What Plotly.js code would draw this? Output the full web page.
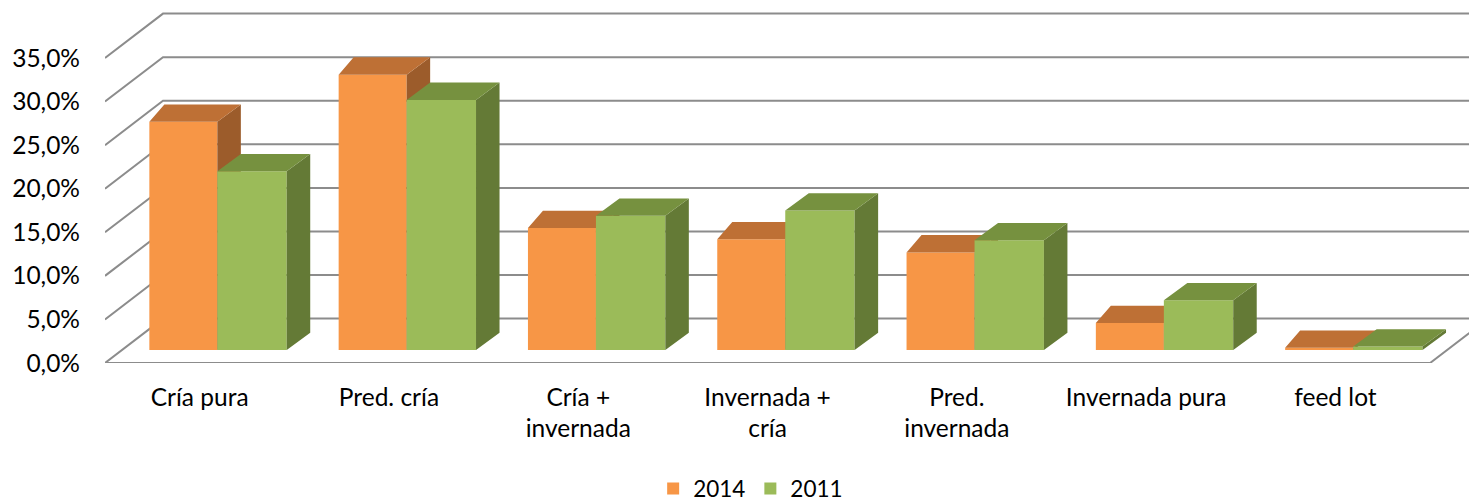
<!DOCTYPE html>
<html>
<head>
<meta charset="utf-8">
<script src="https://cdn.plot.ly/plotly-3.0.1.min.js"></script>
<style>html,body{margin:0;padding:0;background:#fff;}#chart{width:1469px;height:504px;}</style>
</head>
<body>
<div id="chart"></div>
<script>
// ---- data ----
const categories = ['Cría pura', 'Pred. cría', 'Cría +<br>invernada', 'Invernada +<br>cría', 'Pred.<br>invernada', 'Invernada pura', 'feed lot'];
const series2014 = [26.2, 31.6, 14.0, 12.7, 11.2, 3.1, 0.25];
const series2011 = [20.5, 28.7, 15.4, 16.0, 12.6, 5.7, 0.4];
const tickValues = [0, 5, 10, 15, 20, 25, 30, 35];
const tickLabels = ['0,0%', '5,0%', '10,0%', '15,0%', '20,0%', '25,0%', '30,0%', '35,0%'];

// ---- geometry (pixel scale of the front plane) ----
const W = 1469, H = 504;
const M = {l: 105, r: 0, t: 0, b: 141};
const PX_CAT = 189.3, PX_PCT = 8.714;
const plotW = W - M.l - M.r, plotH = H - M.t - M.b;
const xRange = [-0.5, -0.5 + plotW / PX_CAT];
const yRange = [0, plotH / PX_PCT];
const wallDx = 58 / PX_CAT, wallDy = 44.4 / PX_PCT;     // full depth of the floor/walls
const baseY = 13 / PX_PCT;                                // bar front face sits a bit behind the front edge
const topDy = 17.3 / PX_PCT;                              // bar depth (vertical)
const topDxR = 23.5 / PX_CAT;                             // bar depth (horizontal, right edge)

const styles = {
  '2014': {offset: -0.2657, width: 0.3592, dL: 15 / PX_CAT, front: '#F79646', top: '#BE7035', side: '#9C5C2B'},
  '2011': {offset: 0.0935, width: 0.3665, dL: 23.5 / PX_CAT, front: '#9BBB59', top: '#76913F', side: '#647A36'}
};

function seriesTraces(name, values, xa, ya) {
  const s = styles[name];
  const xs = values.map((v, i) => i);
  const topX = [], topY = [], sideX = [], sideY = [];
  values.forEach((v, i) => {
    const xL = i + s.offset, xR = i + s.offset + s.width;
    const yb = baseY, yt = baseY + v;
    topX.push(xL, xR, xR + topDxR, xL + s.dL, xL, null);
    topY.push(yt, yt, yt + topDy, yt + topDy, yt, null);
    sideX.push(xR, xR, xR + topDxR, xR + topDxR, xR, null);
    sideY.push(yb, yt, yt + topDy, yb + topDy, yb, null);
  });
  return [
    {type: 'bar', name: name, x: xs, y: values, base: baseY, offset: s.offset, width: s.width,
     marker: {color: s.front, line: {width: 0}}, xaxis: xa, yaxis: ya, hoverinfo: 'skip', showlegend: true},
    {type: 'scatter', mode: 'lines', x: sideX, y: sideY, fill: 'toself', fillcolor: s.side,
     line: {width: 0, color: s.side}, xaxis: xa, yaxis: ya, hoverinfo: 'skip', showlegend: false},
    {type: 'scatter', mode: 'lines', x: topX, y: topY, fill: 'toself', fillcolor: s.top,
     line: {width: 0, color: s.top}, xaxis: xa, yaxis: ya, hoverinfo: 'skip', showlegend: false}
  ];
}

const traces = [].concat(
  seriesTraces('2014', series2014, 'x', 'y'),
  seriesTraces('2011', series2011, 'x2', 'y2')
);

// perspective gridlines (left wall + back wall) and floor edges
const gridColor = '#8C8C8C';
const shapes = tickValues.map(v => ({
  type: 'path', xref: 'x', yref: 'y', layer: 'below',
  path: 'M' + xRange[0] + ',' + v + ' L' + (xRange[0] + wallDx) + ',' + (v + wallDy) + ' L' + (xRange[1] + 1) + ',' + (v + wallDy),
  line: {color: gridColor, width: 2}
}));
shapes.push({
  type: 'path', xref: 'x', yref: 'y', layer: 'below',
  path: 'M' + xRange[0] + ',0 L' + (categories.length - 0.5) + ',0 L' + (categories.length - 0.5 + wallDx) + ',' + wallDy,
  line: {color: gridColor, width: 2}
});

const layout = {
  width: W, height: H,
  margin: M,
  paper_bgcolor: '#fff', plot_bgcolor: 'rgba(0,0,0,0)',
  font: {family: 'Lato, "Open Sans", sans-serif', size: 24.5, color: '#000'},
  showlegend: true,
  xaxis: {range: xRange, tickvals: categories.map((c, i) => i), ticktext: categories,
          showgrid: false, zeroline: false, showline: false, ticks: '', ticklabelstandoff: 17, fixedrange: true},
  yaxis: {range: yRange, tickvals: tickValues, ticktext: tickLabels,
          showgrid: false, zeroline: false, showline: false, ticks: '', ticklabelstandoff: 24, fixedrange: true},
  xaxis2: {range: xRange, overlaying: 'x', visible: false, fixedrange: true},
  yaxis2: {range: yRange, overlaying: 'y', visible: false, fixedrange: true},
  shapes: shapes,
  legend: {orientation: 'h', xref: 'container', yref: 'container', x: 0.511, xanchor: 'center',
           y: 0.03, yanchor: 'middle', font: {size: 22.5}, bgcolor: 'rgba(0,0,0,0)', traceorder: 'normal'},
  barmode: 'overlay'
};

Plotly.newPlot('chart', traces, layout, {displayModeBar: false, staticPlot: true});
</script>
</body>
</html>
